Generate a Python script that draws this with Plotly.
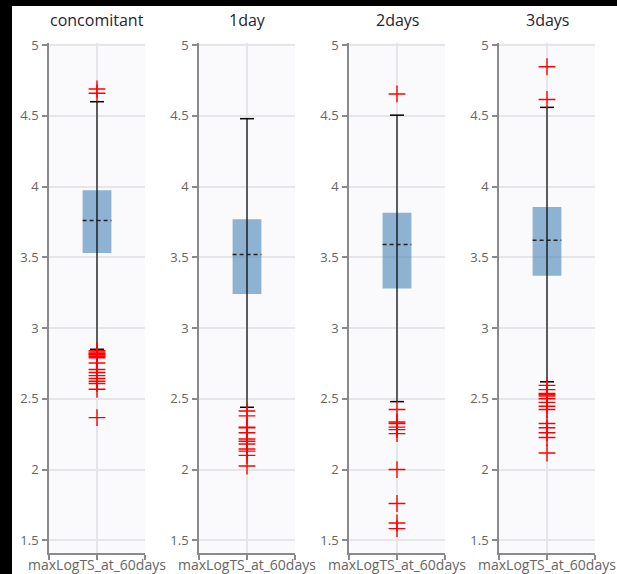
import plotly.graph_objects as go

# Box statistics of maxLogTS_at_60days per treatment group
groups = ["concomitant", "1day", "2days", "3days"]
q1 = [3.53, 3.24, 3.28, 3.37]
median = [3.76, 3.52, 3.59, 3.62]
q3 = [3.975, 3.77, 3.815, 3.855]
lower_whisker = [2.85, 2.44, 2.48, 2.62]
upper_whisker = [4.60, 4.48, 4.505, 4.56]

# Outlying observations per group
outliers = [
    [4.69, 4.66, 2.84, 2.83, 2.82, 2.815, 2.81, 2.80, 2.79, 2.753, 2.707,
     2.686, 2.664, 2.643, 2.624, 2.608, 2.567, 2.367],
    [2.414, 2.379, 2.30, 2.295, 2.26, 2.216, 2.20, 2.18, 2.145, 2.13, 2.10,
     2.025],
    [4.655, 2.424, 2.336, 2.325, 2.30, 2.282, 2.254, 2.00, 1.76, 1.622,
     1.582],
    [4.847, 4.616, 2.595, 2.565, 2.537, 2.53, 2.52, 2.50, 2.475, 2.447,
     2.424, 2.325, 2.295, 2.26, 2.226, 2.117],
]

x_label = "maxLogTS_at_60days"
y_ticks = [1.5, 2, 2.5, 3, 3.5, 4, 4.5, 5]

W, H = 617, 574
box_half = 0.15
cap_half = 0.073

fig = go.Figure()

# pixel-based panel geometry
panel_left = [49, 199, 349, 499]
panel_w = 96
plot_top, plot_bottom = 43, 553

axis_style = dict(
    showline=True, linecolor="#8a8a8a", linewidth=1.5,
    tickcolor="#8a8a8a", tickwidth=1.5,
    gridcolor="#e6e6ea", gridwidth=1.5, zeroline=False, automargin=False,
)

for i, g in enumerate(groups):
    n = i + 1
    xa = "x" if n == 1 else f"x{n}"
    ya = "y" if n == 1 else f"y{n}"

    # whisker stem (behind the box)
    fig.add_trace(go.Scatter(
        x=[0, 0], y=[lower_whisker[i], upper_whisker[i]], mode="lines",
        line=dict(color="black", width=1.2), xaxis=xa, yaxis=ya,
        showlegend=False, hoverinfo="skip"))

    # interquartile box
    fig.add_trace(go.Box(
        x=[0], q1=[q1[i]], median=[median[i]], q3=[q3[i]],
        lowerfence=[q1[i]], upperfence=[q3[i]], width=2 * box_half,
        fillcolor="rgba(70,130,180,0.6)", line=dict(width=0),
        boxpoints=False, xaxis=xa, yaxis=ya, showlegend=False, name=g))

    # whisker caps
    for v in (lower_whisker[i], upper_whisker[i]):
        fig.add_trace(go.Scatter(
            x=[-cap_half, cap_half], y=[v, v], mode="lines",
            line=dict(color="black", width=1.5), xaxis=xa, yaxis=ya,
            showlegend=False, hoverinfo="skip"))

    # median
    fig.add_trace(go.Scatter(
        x=[-box_half, box_half], y=[median[i], median[i]], mode="lines",
        line=dict(color="#222222", width=1.5, dash="4px,3px"),
        xaxis=xa, yaxis=ya, showlegend=False, hoverinfo="skip"))

    # outliers
    fig.add_trace(go.Scatter(
        x=[0] * len(outliers[i]), y=outliers[i], mode="markers",
        marker=dict(symbol="cross-thin", size=12,
                    line=dict(color="red", width=1.4)),
        xaxis=xa, yaxis=ya, showlegend=False))

    x0 = panel_left[i] / W
    x1 = (panel_left[i] + panel_w) / W
    fig.layout[f"xaxis{n if n > 1 else ''}"] = dict(
        domain=[x0, x1], range=[-0.5, 0.5], anchor=ya,
        tickvals=[0], showticklabels=False, showgrid=True, ticks="",
        minor=dict(tickvals=[-0.5, 0, 0.5], ticks="outside", ticklen=5,
                   tickcolor="#8a8a8a", tickwidth=1.5, showgrid=False),
        **axis_style)
    fig.layout[f"yaxis{n if n > 1 else ''}"] = dict(
        domain=[1 - plot_bottom / H, 1 - plot_top / H], range=[1.41, 5.015],
        anchor=xa, tickvals=y_ticks, showgrid=True, ticklabelstandoff=1,
        ticks="outside", ticklen=5,
        tickfont=dict(family="Open Sans", size=13, color="#666666"),
        **axis_style)

    # panel title
    fig.add_annotation(
        x=(panel_left[i] + panel_w / 2) / W, y=1 - 20 / H,
        xref="paper", yref="paper", text=g, showarrow=False,
        font=dict(family="Open Sans", size=16, color="#1f2433"),
        xanchor="center", yanchor="middle")

    # category label under the x axis
    fig.add_annotation(
        x=0, y=1 - 564 / H, xref=xa, yref="paper", text=x_label,
        showarrow=False, font=dict(family="Open Sans", size=14,
                                   color="#666666"),
        xanchor="center", yanchor="middle")

# dark frame strips along the left and top edges
fig.add_shape(type="rect", xref="paper", yref="paper", x0=0, x1=12 / W,
              y0=0, y1=1, fillcolor="black", line=dict(width=0), layer="below")
fig.add_shape(type="rect", xref="paper", yref="paper", x0=0, x1=1,
              y0=1 - 6 / H, y1=1, fillcolor="black", line=dict(width=0),
              layer="below")

fig.update_layout(
    width=W, height=H,
    margin=dict(l=0, r=0, t=0, b=0, pad=0, autoexpand=False),
    paper_bgcolor="white", plot_bgcolor="#fafafc",
    font=dict(family="Open Sans"),
)

fig.write_html("out.html")
